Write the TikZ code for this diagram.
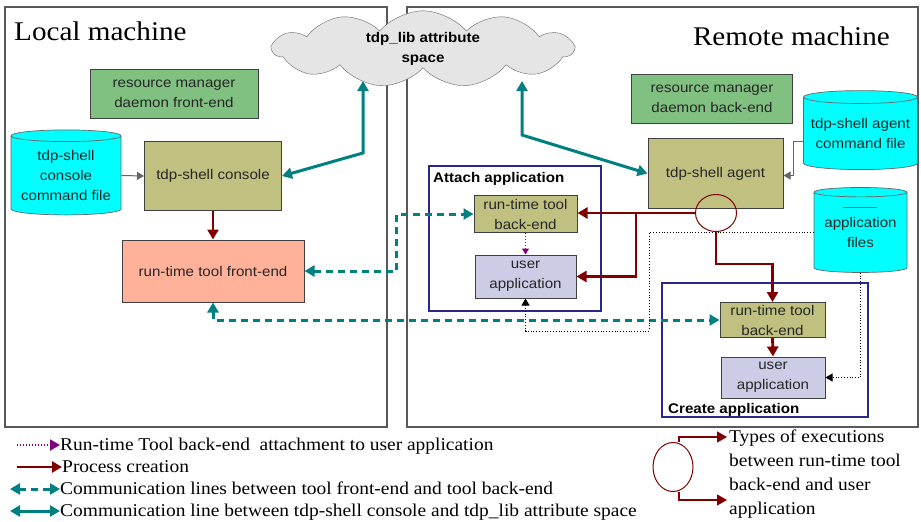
\documentclass[tikz,border=0pt]{standalone}
\usepackage{fontspec}
\setmainfont[FakeStretch=1.08]{Liberation Serif}
\setsansfont[FakeStretch=1.08]{Liberation Sans}
\usetikzlibrary{shapes.geometric,shapes.symbols,arrows.meta,positioning}
\definecolor{rmgreen}{RGB}{128,192,128}
\definecolor{tdpolive}{RGB}{192,192,128}
\definecolor{fesalmon}{RGB}{255,178,153}
\definecolor{applav}{RGB}{204,204,230}
\definecolor{filecyan}{RGB}{0,255,255}
\definecolor{commteal}{RGB}{0,128,128}
\definecolor{procred}{RGB}{128,0,0}
\definecolor{attpurple}{RGB}{128,0,128}
\definecolor{grpblue}{RGB}{40,40,140}
\begin{document}
\begin{tikzpicture}[x=1pt,y=-1pt,
    box/.style={draw=black!75,line width=1pt,inner sep=1pt,align=center,text=black!85,font=\sffamily\fontsize{14}{20}\selectfont},
    rmbox/.style={box,fill=rmgreen},
    tdpbox/.style={box,fill=tdpolive},
    febox/.style={box,fill=fesalmon},
    appbox/.style={box,fill=applav},
    store/.style={cylinder,shape border rotate=90,aspect=0.13,draw=black!60,line width=0.7pt,fill=filecyan,align=center,text=black!85,font=\sffamily\fontsize{14}{20}\selectfont,inner sep=0pt},
    group/.style={draw=grpblue,line width=1.4pt,inner sep=0pt},
    grplabel/.style={font=\sffamily\bfseries\fontsize{14}{16}\selectfont,inner sep=0pt},
    frame/.style={draw=black!65,line width=1.4pt},
    title/.style={font=\rmfamily\fontsize{27}{30}\selectfont,inner sep=0pt},
    legtext/.style={font=\rmfamily\fontsize{18}{24}\selectfont,inner sep=0pt},
    proc/.style={draw=procred,line width=2.8pt,-{Triangle[length=10pt,width=11pt]}},
    comm/.style={draw=commteal,line width=3pt,{Triangle[length=10pt,width=11pt]}-{Triangle[length=10pt,width=11pt]}},
    commdash/.style={comm,dash pattern=on 7pt off 5pt},
    attach/.style={draw=attpurple,line width=1pt,dotted,-{Triangle[length=6pt,width=7pt]}},
    datadot/.style={draw=black,line width=0.8pt,dotted,-{Triangle[length=7pt,width=8pt]}},
    fileline/.style={draw=black!60,line width=1pt,-{Triangle[length=7pt,width=8pt]}}]
  \useasboundingbox (0,0) rectangle (921,522);
  \draw[frame] (5,7) rectangle (387,427);
  \draw[frame] (407,7) rectangle (918,427);
  \node[title,anchor=base west] (localt) at (14,40) {Local machine};
  \node[title,anchor=base east] (remotet) at (890,45) {Remote machine};
  \node[cloud,cloud puffs=11,cloud puff arc=100,cloud ignores aspect,draw=black!60,fill=black!10,minimum width=300pt,minimum height=64pt,align=center,font=\sffamily\bfseries\fontsize{14}{20}\selectfont] (attr) at (423,49) {tdp\_lib attribute\\space};
  \node[rmbox,minimum width=168pt,minimum height=49pt] (rmfront) at (174,93.5) {resource manager\\daemon front-end};
  \node[store,minimum width=110pt,minimum height=85pt] (confile) at (66,175.5) {tdp-shell\\console\\command file};
  \node[tdpbox,minimum width=137pt,minimum height=69pt] (console) at (213,176) {tdp-shell console};
  \node[febox,minimum width=182pt,minimum height=62pt] (frontend) at (213,271) {run-time tool front-end};
  \node[rmbox,minimum width=161pt,minimum height=49pt] (rmback) at (712,98.5) {resource manager\\daemon back-end};
  \node[tdpbox,minimum width=135pt,minimum height=70pt] (agent) at (715.5,173.5) {tdp-shell agent};
  \node[store,minimum width=114pt,minimum height=79pt] (agentfile) at (860.5,133.5) {tdp-shell agent\\command file};
  \node[store,minimum width=93pt,minimum height=85pt] (appfiles) at (860.5,232.5) {application\\files};
  \draw[black!60,line width=0.8pt] (843,207) -- (877,207);
  \node[group,minimum width=172pt,minimum height=145pt] (attachgrp) at (515,238.5) {};
  \node[grplabel,anchor=base west] (attachl) at (433,182) {Attach application};
  \node[tdpbox,minimum width=103pt,minimum height=37pt] (attback) at (525.5,214) {run-time tool\\back-end};
  \node[appbox,minimum width=101pt,minimum height=43pt] (attapp) at (525.5,276.5) {user\\application};
  \node[group,minimum width=206pt,minimum height=134pt] (creategrp) at (765,350) {};
  \node[grplabel,anchor=base west] (createl) at (668,413) {Create application};
  \node[tdpbox,minimum width=105pt,minimum height=35pt] (crback) at (772.5,320) {run-time tool\\back-end};
  \node[appbox,minimum width=104pt,minimum height=41pt] (crapp) at (773,377.5) {user\\application};
  \node[ellipse,draw=procred,line width=1pt,minimum width=41pt,minimum height=37pt,inner sep=0pt] (exec) at (716,213) {};
  \coordinate (cloudl) at (363,81);
  \coordinate (cloudr) at (522,81);
  \coordinate (split) at (636,213);
  \draw[fileline] (confile.east) -- (console.west);
  \draw[proc] (console.south) -- (frontend.north);
  \draw[comm] (console.east) -- (363,153) -- (cloudl);
  \draw[comm] (cloudr) -- (522,135) -- (agent.west);
  \draw[fileline] ([yshift=-8.5pt]agentfile.west) -- ++(-10,0) |- ([yshift=-2pt]agent.east);
  \draw[proc] (exec.west) -- (exec.west -| attback.east);
  \draw[proc] (split) |- (attapp.east);
  \draw[proc] (exec.south) -- ++(0,32) -| (crback.north);
  \draw[proc] (crback.south) -- (crapp.north);
  \draw[attach] (attback.south) -- (attapp.north);
  \draw[commdash] (frontend.east) -- ++(92,0) |- (attback.west);
  \draw[commdash] (frontend.south) |- (crback.west);
  \draw[datadot] (appfiles.west) -| (649,331) -| (attapp.south);
  \draw[datadot] (appfiles.south) |- (crapp.east);
  \node[legtext,anchor=base west] (leg1) at (60,450) {Run-time Tool back-end\ \ attachment to user application};
  \node[legtext,anchor=base west] (leg2) at (62,472) {Process creation};
  \node[legtext,anchor=base west] (leg3) at (60,494) {Communication lines between tool front-end and tool back-end};
  \node[legtext,anchor=base west] (leg4) at (60,516) {Communication line between tdp-shell console and tdp\_lib attribute space};
  \coordinate (leg1s) at (17,445);
  \coordinate (leg2s) at (17,467);
  \coordinate (leg3s) at (10,489);
  \coordinate (leg4s) at (10,511);
  \draw[attach,line width=2pt,-{Triangle[length=10pt,width=11pt]}] (leg1s) -- (leg1s -| leg1.west);
  \draw[proc] (leg2s) -- (leg2s -| leg2.west);
  \draw[commdash] (leg3s) -- (leg3s -| leg3.west);
  \draw[comm] (leg4s) -- (leg4s -| leg4.west);
  \node[ellipse,draw=procred,line width=1pt,minimum width=40pt,minimum height=49pt,inner sep=0pt] (lexec) at (673,467) {};
  \node[legtext,anchor=north west,align=left] (legexec) at (729,430) {Types of executions\\between run-time tool\\back-end and user\\application};
  \coordinate (lt) at (727,437);
  \coordinate (lb) at (727,500);
  \draw[proc,line width=1.5pt] ([xshift=6pt]lexec.north) |- (lt);
  \draw[proc,line width=1.5pt] ([xshift=6pt]lexec.south) |- (lb);
\end{tikzpicture}
\end{document}
